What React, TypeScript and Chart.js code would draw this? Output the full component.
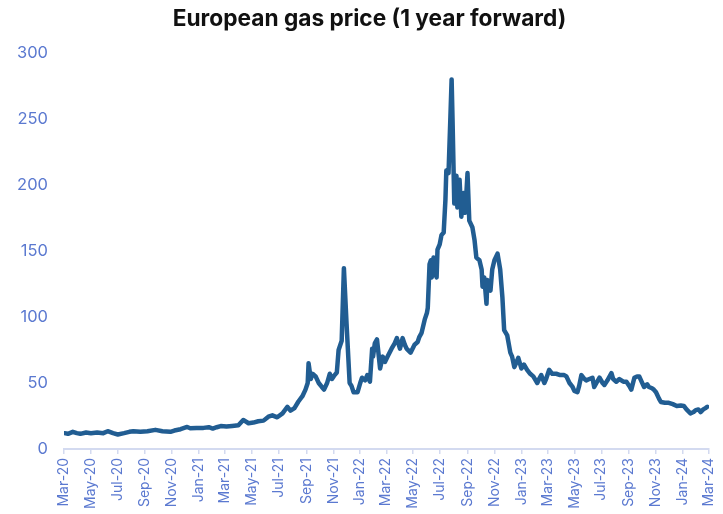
import React, { useEffect, useRef } from "react";
import { Chart, registerables } from "chart.js";

Chart.register(...registerables);

const TITLE = "European gas price (1 year forward)";

const dates: string[] = [
  "2020-03-02","2020-03-10","2020-03-21","2020-03-30","2020-04-07","2020-04-20","2020-05-01","2020-05-15","2020-05-29","2020-06-08",
  "2020-06-20","2020-07-01","2020-07-15","2020-07-27","2020-08-05","2020-08-21","2020-09-06","2020-09-24","2020-10-10","2020-10-28",
  "2020-11-06","2020-11-20","2020-12-05","2020-12-12","2020-12-26","2021-01-11","2021-01-23","2021-02-01","2021-02-10","2021-02-19",
  "2021-03-04","2021-03-17","2021-03-31","2021-04-11","2021-04-23","2021-05-04","2021-05-15","2021-05-27","2021-06-07","2021-06-16",
  "2021-06-27","2021-07-09","2021-07-20","2021-07-27","2021-08-05","2021-08-14","2021-08-23","2021-08-30","2021-09-04","2021-09-06",
  "2021-09-11","2021-09-15","2021-09-22","2021-09-29","2021-10-06","2021-10-11","2021-10-18","2021-10-24","2021-10-29","2021-11-04",
  "2021-11-09","2021-11-13","2021-11-20","2021-11-25","2021-12-01","2021-12-08","2021-12-12","2021-12-17","2021-12-26","2022-01-01",
  "2022-01-05","2022-01-12","2022-01-17","2022-01-23","2022-01-28","2022-01-30","2022-02-03","2022-02-08","2022-02-15","2022-02-21",
  "2022-02-26","2022-03-04","2022-03-13","2022-03-20","2022-03-25","2022-04-01","2022-04-07","2022-04-12","2022-04-16","2022-04-25",
  "2022-05-04","2022-05-11","2022-05-15","2022-05-20","2022-05-27","2022-06-01","2022-06-03","2022-06-07","2022-06-10","2022-06-12",
  "2022-06-16","2022-06-21","2022-06-23","2022-06-25","2022-06-30","2022-07-04","2022-07-09","2022-07-13","2022-07-15","2022-07-20",
  "2022-07-24","2022-07-27","2022-07-29","2022-08-02","2022-08-07","2022-08-09","2022-08-14","2022-08-18","2022-08-23","2022-08-27",
  "2022-09-01","2022-09-05","2022-09-12","2022-09-17","2022-09-21","2022-09-28","2022-10-03","2022-10-05","2022-10-09","2022-10-14",
  "2022-10-16","2022-10-23","2022-10-27","2022-11-01","2022-11-08","2022-11-14","2022-11-19","2022-11-23","2022-11-30","2022-12-07",
  "2022-12-11","2022-12-16","2022-12-20","2022-12-25","2023-01-01","2023-01-07","2023-01-14","2023-01-21","2023-01-28","2023-02-06",
  "2023-02-10","2023-02-15","2023-02-22","2023-02-26","2023-03-05","2023-03-12","2023-03-21","2023-03-30","2023-04-08","2023-04-13",
  "2023-04-20","2023-04-27","2023-05-01","2023-05-08","2023-05-12","2023-05-17","2023-05-24","2023-05-28","2023-06-04","2023-06-11",
  "2023-06-15","2023-06-20","2023-06-27","2023-07-04","2023-07-08","2023-07-15","2023-07-24","2023-07-28","2023-08-04","2023-08-11",
  "2023-08-20","2023-08-27","2023-09-02","2023-09-07","2023-09-14","2023-09-20","2023-09-25","2023-09-29","2023-10-06","2023-10-13",
  "2023-10-17","2023-10-24","2023-10-28","2023-11-02","2023-11-09","2023-11-13","2023-11-22","2023-12-01","2023-12-10","2023-12-19",
  "2023-12-28","2024-01-04","2024-01-10","2024-01-19","2024-01-26","2024-01-31","2024-02-06","2024-02-11","2024-02-17","2024-02-22",
  "2024-02-26"
];

const prices: number[] = [
  12, 11.5, 13, 12, 11.5, 12.5, 12, 12.5, 12, 13.5,
  12, 11, 12, 13, 13.5, 13, 13.5, 14.5, 13.5, 13,
  14, 15, 16.7, 15.7, 16, 16, 16.5, 15.5, 16.5, 17.4,
  17, 17.5, 18, 22, 19.5, 20, 21, 21.5, 24.5, 25.5,
  24, 27, 32, 29, 31, 36, 40, 45, 50, 65,
  53, 57, 55, 50, 47, 45, 50, 57, 53, 56,
  58, 75, 82, 137, 95, 50, 48, 43, 43, 50,
  54, 52, 56, 51, 76, 70, 80, 83, 61, 70,
  66, 70, 76, 80, 84, 76, 84, 79, 76, 73,
  79, 81, 85, 88, 98, 103, 107, 140, 143, 130,
  145, 132, 130, 151, 155, 162, 164, 189, 211, 209,
  249, 280, 251, 186, 207, 183, 204, 176, 194, 179,
  209, 173, 168, 158, 145, 143, 136, 123, 130, 110,
  128, 120, 136, 143, 148, 136, 115, 90, 86, 73,
  70, 62, 65, 69, 61, 64, 60, 57, 55, 50,
  53, 56, 50, 53, 60, 57, 57, 56, 56, 55,
  50, 47, 44, 43, 48, 56, 53, 52, 53, 54,
  47, 50, 54, 50, 48.5, 52, 57.5, 53, 51, 53,
  51, 51, 48, 45, 54, 55, 55, 52, 47, 49,
  47, 46, 45, 43, 38, 35.6, 35, 35, 34, 32.6,
  33, 32.6, 30, 27, 28, 29.5, 30, 28, 30, 31,
  32
];

const tickDates: string[] = [
  "2020-03-01","2020-05-01","2020-07-01","2020-09-01","2020-11-01",
  "2021-01-01","2021-03-01","2021-05-01","2021-07-01","2021-09-01","2021-11-01",
  "2022-01-01","2022-03-01","2022-05-01","2022-07-01","2022-09-01","2022-11-01",
  "2023-01-01","2023-03-01","2023-05-01","2023-07-01","2023-09-01","2023-11-01",
  "2024-01-01","2024-03-01"
];
const tickLabels: string[] = [
  "Mar-20","May-20","Jul-20","Sep-20","Nov-20",
  "Jan-21","Mar-21","May-21","Jul-21","Sep-21","Nov-21",
  "Jan-22","Mar-22","May-22","Jul-22","Sep-22","Nov-22",
  "Jan-23","Mar-23","May-23","Jul-23","Sep-23","Nov-23",
  "Jan-24","Mar-24"
];

const ORIGIN = Date.parse("2020-03-01T00:00:00Z");
const dayOf = (d: string) => (Date.parse(d + "T00:00:00Z") - ORIGIN) / 86400000;

const titlePlugin = {
  id: "customTitle",
  afterDraw(chart: any) {
    const ctx = chart.ctx;
    ctx.save();
    ctx.font = "bold 22.7px Inter";
    ctx.fillStyle = "#111111";
    ctx.textAlign = "center";
    ctx.textBaseline = "middle";
    ctx.fillText(TITLE, 369.5, 19);
    ctx.restore();
  },
};

export default function App() {
  const ref = useRef<HTMLCanvasElement | null>(null);
  useEffect(() => {
    if (!ref.current) return;
    const tickColor = "#5b79d0";
    const chart = new Chart(ref.current, {
      type: "line",
      data: {
        datasets: [
          {
            data: dates.map((d, i) => ({ x: dayOf(d), y: prices[i] })),
            borderColor: "#215d92",
            borderWidth: 4.5,
            pointRadius: 0,
            tension: 0,
            fill: false,
            borderJoinStyle: "round",
            borderCapStyle: "round",
          },
        ],
      },
      plugins: [titlePlugin],
      options: {
        animation: false,
        responsive: true,
        maintainAspectRatio: false,
        layout: { padding: { left: 0, right: 14, top: 53, bottom: 0 } },
        plugins: {
          legend: { display: false },
          tooltip: { enabled: false },
          title: { display: false },
        },
        scales: {
          x: {
            type: "linear",
            min: 0,
            max: dayOf("2024-03-01"),
            afterBuildTicks: (scale: any) => {
              scale.ticks = tickDates.map((d) => ({ value: dayOf(d) }));
            },
            afterFit: (scale: any) => {
              scale.height = 65;
              scale.paddingLeft = 0;
              scale.paddingRight = 0;
            },
            ticks: {
              autoSkip: false,
              minRotation: 90,
              maxRotation: 90,
              padding: 4,
              color: tickColor,
              font: { family: "Inter", size: 14 },
              callback: (_v: any, i: number) => tickLabels[i],
            },
            grid: {
              display: true,
              drawOnChartArea: false,
              drawTicks: true,
              tickLength: 5,
              color: "#d3daf0",
              lineWidth: 1.5,
            },
            border: { display: true, color: "#d3daf0", width: 2 },
          },
          y: {
            min: 0,
            max: 300,
            afterFit: (scale: any) => {
              scale.width = 64;
              scale.paddingTop = 0;
              scale.paddingBottom = 0;
            },
            ticks: {
              stepSize: 50,
              padding: 16,
              color: tickColor,
              font: { family: "Inter", size: 16.5 },
            },
            grid: { display: false, drawTicks: false },
            border: { display: false },
          },
        },
      },
    } as any);
    return () => chart.destroy();
  }, []);
  return (
    <div style={{ position: "fixed", left: 0, top: 0, width: 723, height: 514, background: "#fff" }}>
      <canvas ref={ref} />
    </div>
  );
}
